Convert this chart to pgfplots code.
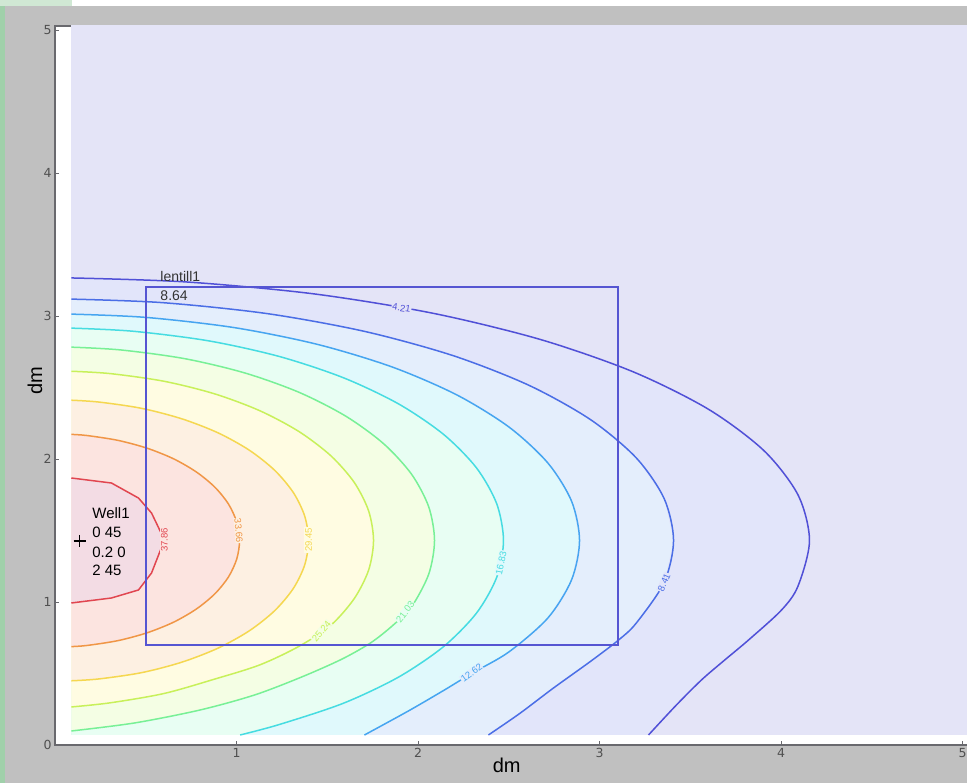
\documentclass[border=0pt]{standalone}
\usepackage{pgfplots}
\pgfplotsset{compat=1.18}
\usepackage{fontspec}
\setmainfont{Liberation Sans}
\newfontfamily\dv{DejaVu Sans}
\definecolor{bggray}{RGB}{192,192,192}
\definecolor{greenstrip}{RGB}{160,208,170}
\definecolor{framecol}{RGB}{105,105,110}
\definecolor{tickcol}{RGB}{80,80,80}
\definecolor{bgfield}{RGB}{228,228,247}
\definecolor{f1}{RGB}{226,229,250}
\definecolor{f2}{RGB}{228,238,252}
\definecolor{f3}{RGB}{224,249,252}
\definecolor{f4}{RGB}{232,254,243}
\definecolor{f5}{RGB}{244,254,228}
\definecolor{f6}{RGB}{255,252,226}
\definecolor{f7}{RGB}{253,240,226}
\definecolor{f8}{RGB}{252,228,224}
\definecolor{f9}{RGB}{243,220,228}
\definecolor{l1c}{RGB}{80,80,215}
\definecolor{l2c}{RGB}{75,110,230}
\definecolor{l3c}{RGB}{70,165,240}
\definecolor{l4c}{RGB}{70,220,225}
\definecolor{l5c}{RGB}{120,240,150}
\definecolor{l6c}{RGB}{200,240,90}
\definecolor{l7c}{RGB}{245,215,80}
\definecolor{l8c}{RGB}{240,150,70}
\definecolor{l9c}{RGB}{225,70,80}
\definecolor{rectcol}{RGB}{85,85,210}
\tikzset{lab/.style={font=\fontsize{9.5}{10}\selectfont, inner sep=0.8pt}}
\begin{document}
\begin{tikzpicture}[x=1pt,y=1pt]
\useasboundingbox (0,0) rectangle (967,783);
\fill[bggray] (0,0) rectangle (967,783);
\fill[greenstrip] (0,0) rectangle (5,783);
\fill[greenstrip!50!white] (0,777) rectangle (72,783);
\fill[white] (72,777) rectangle (967,783);
\begin{axis}[
  at={(55pt,38pt)}, anchor=south west,
  scale only axis, width=925.65pt, height=719.3pt,
  xmin=0, xmax=5.1, ymin=0, ymax=5.03,
  axis background/.style={fill=white},
  axis line style={draw=framecol, line width=2pt},
  xtick={1,2,3,4,5}, ytick={0,1,2,3,4,5},
  tick align=inside, major tick length=4pt,
  tick style={draw=framecol, line width=0.8pt},
  ticklabel style={font=\dv\fontsize{12.5}{14}\selectfont, text=tickcol},
  /pgf/number format/assume math mode=true,
  xlabel={dm}, ylabel={dm},
  every axis x label/.style={at={(axis description cs:0.488,0)}, anchor=center, yshift=-20pt, font=\fontsize{20}{24}\selectfont},
  every axis y label/.style={at={(axis description cs:-0.0216,0.507)}, rotate=90, anchor=center, font=\fontsize{20}{24}\selectfont},
]
% field background
\addplot[fill=bgfield, draw=none] coordinates {(0.09,0.07)(5.3,0.07)(5.3,5.2)(0.09,5.2)} --cycle;
% filled regions (area enclosed by each contour level)
\addplot[fill=f1, draw=none] coordinates {(0.09,3.266)(0.7217,3.2381)(1.4217,3.1553)(2.0785,3.020)(2.6722,2.8364)(3.1843,2.6102)(3.60,2.348)(3.9063,2.0579)(4.0938,1.7487)(4.157,1.43)(4.0938,1.1113)(4.003,0.944)(3.821,0.734)(3.683,0.587)(3.562,0.455)(3.424,0.280)(3.27,0.07)(0.09,0.07)} --cycle;
\addplot[fill=f2, draw=none] coordinates {(0.09,3.118)(0.5916,3.0933)(1.1655,3.0172)(1.704,2.8927)(2.1907,2.7238)(2.6105,2.5157)(2.9514,2.2745)(3.2025,2.0076)(3.3562,1.7232)(3.408,1.43)(3.3562,1.1368)(3.2025,0.8524)(3.105,0.734)(2.9514,0.5855)(2.747,0.399)(2.56,0.22)(2.388,0.07)(0.09,0.07)} --cycle;
\addplot[fill=f3, draw=none] coordinates {(0.09,3.013)(0.5017,2.990)(0.9884,2.9185)(1.445,2.8017)(1.8577,2.6433)(2.2137,2.4482)(2.5027,2.222)(2.7157,1.9717)(2.8461,1.705)(2.890,1.43)(2.8461,1.155)(2.7157,0.8883)(2.50,0.65)(2.295,0.50)(2.146,0.385)(1.95,0.24)(1.705,0.07)(0.09,0.07)} --cycle;
\addplot[fill=f4, draw=none] coordinates {(0.09,2.915)(0.429,2.8934)(0.8451,2.8264)(1.2355,2.7169)(1.5884,2.5683)(1.8928,2.3852)(2.1399,2.173)(2.322,1.9382)(2.4334,1.688)(2.471,1.43)(2.4334,1.172)(2.322,0.9218)(2.1399,0.687)(1.8928,0.4748)(1.5884,0.2917)(1.2355,0.1431)(1.02,0.07)(0.09,0.07)} --cycle;
\addplot[fill=f5, draw=none] coordinates {(0.09,2.782)(0.3631,2.7624)(0.7151,2.7014)(1.0455,2.6017)(1.3441,2.4664)(1.6017,2.2997)(1.8108,2.1065)(1.9649,1.8927)(2.0592,1.6649)(2.091,1.43)(2.0592,1.1951)(1.9649,0.9673)(1.86,0.835)(1.74,0.715)(1.58,0.60)(1.358,0.475)(1.10,0.35)(0.80,0.245)(0.438,0.154)(0.09,0.098)} --cycle;
\addplot[fill=f6, draw=none] coordinates {(0.09,2.6135)(0.3047,2.597)(0.6002,2.5436)(0.8775,2.4562)(1.1281,2.3377)(1.3443,2.1917)(1.5198,2.0225)(1.6492,1.8353)(1.7283,1.6357)(1.755,1.43)(1.7283,1.2243)(1.6492,1.0247)(1.5198,0.8375)(1.3443,0.69)(1.1281,0.56)(0.8775,0.46)(0.6002,0.36)(0.3047,0.295)(0.09,0.266)} --cycle;
\addplot[fill=f7, draw=none] coordinates {(0.09,2.411)(0.2425,2.398)(0.4778,2.354)(0.6985,2.281)(0.898,2.183)(1.070,2.062)(1.2098,1.9215)(1.3128,1.766)(1.3758,1.6006)(1.397,1.43)(1.3758,1.2594)(1.3128,1.094)(1.2098,0.9385)(1.070,0.798)(0.898,0.677)(0.6985,0.579)(0.4778,0.506)(0.2425,0.462)(0.09,0.449)} --cycle;
\addplot[fill=f8, draw=none] coordinates {(0.09,2.172)(0.1766,2.164)(0.3478,2.130)(0.5085,2.075)(0.6537,2.001)(0.7790,1.909)(0.8807,1.803)(0.9557,1.685)(1.0015,1.559)(1.017,1.43)(1.0015,1.301)(0.9557,1.175)(0.8807,1.057)(0.7790,0.951)(0.6537,0.859)(0.5085,0.785)(0.3478,0.730)(0.1766,0.696)(0.09,0.688)} --cycle;
\addplot[fill=f9, draw=none] coordinates {(0.09,1.867)(0.311,1.832)(0.460,1.727)(0.532,1.622)(0.603,1.434)(0.532,1.203)(0.460,1.084)(0.311,1.028)(0.09,0.993)} --cycle;
% contour lines
\addplot[l1c, line width=1.5pt, smooth, tension=0.5] coordinates {(0.09,3.266)(0.7217,3.2381)(1.4217,3.1553)(2.0785,3.020)(2.6722,2.8364)(3.1843,2.6102)(3.60,2.348)(3.9063,2.0579)(4.0938,1.7487)(4.157,1.43)(4.0938,1.1113)(4.003,0.944)(3.821,0.734)(3.683,0.587)(3.562,0.455)(3.424,0.280)(3.27,0.07)};
\addplot[l2c, line width=1.5pt, smooth, tension=0.5] coordinates {(0.09,3.118)(0.5916,3.0933)(1.1655,3.0172)(1.704,2.8927)(2.1907,2.7238)(2.6105,2.5157)(2.9514,2.2745)(3.2025,2.0076)(3.3562,1.7232)(3.408,1.43)(3.3562,1.1368)(3.2025,0.8524)(3.105,0.734)(2.9514,0.5855)(2.747,0.399)(2.56,0.22)(2.388,0.07)};
\addplot[l3c, line width=1.5pt, smooth, tension=0.5] coordinates {(0.09,3.013)(0.5017,2.990)(0.9884,2.9185)(1.445,2.8017)(1.8577,2.6433)(2.2137,2.4482)(2.5027,2.222)(2.7157,1.9717)(2.8461,1.705)(2.890,1.43)(2.8461,1.155)(2.7157,0.8883)(2.50,0.65)(2.295,0.50)(2.146,0.385)(1.95,0.24)(1.705,0.07)};
\addplot[l4c, line width=1.5pt, smooth, tension=0.5] coordinates {(0.09,2.915)(0.429,2.8934)(0.8451,2.8264)(1.2355,2.7169)(1.5884,2.5683)(1.8928,2.3852)(2.1399,2.173)(2.322,1.9382)(2.4334,1.688)(2.471,1.43)(2.4334,1.172)(2.322,0.9218)(2.1399,0.687)(1.8928,0.4748)(1.5884,0.2917)(1.2355,0.1431)(1.02,0.07)};
\addplot[l5c, line width=1.5pt, smooth, tension=0.5] coordinates {(0.09,2.782)(0.3631,2.7624)(0.7151,2.7014)(1.0455,2.6017)(1.3441,2.4664)(1.6017,2.2997)(1.8108,2.1065)(1.9649,1.8927)(2.0592,1.6649)(2.091,1.43)(2.0592,1.1951)(1.9649,0.9673)(1.86,0.835)(1.74,0.715)(1.58,0.60)(1.358,0.475)(1.10,0.35)(0.80,0.245)(0.438,0.154)(0.09,0.098)};
\addplot[l6c, line width=1.5pt, smooth, tension=0.5] coordinates {(0.09,2.6135)(0.3047,2.597)(0.6002,2.5436)(0.8775,2.4562)(1.1281,2.3377)(1.3443,2.1917)(1.5198,2.0225)(1.6492,1.8353)(1.7283,1.6357)(1.755,1.43)(1.7283,1.2243)(1.6492,1.0247)(1.5198,0.8375)(1.3443,0.69)(1.1281,0.56)(0.8775,0.46)(0.6002,0.36)(0.3047,0.295)(0.09,0.266)};
\addplot[l7c, line width=1.5pt, smooth, tension=0.5] coordinates {(0.09,2.411)(0.2425,2.398)(0.4778,2.354)(0.6985,2.281)(0.898,2.183)(1.070,2.062)(1.2098,1.9215)(1.3128,1.766)(1.3758,1.6006)(1.397,1.43)(1.3758,1.2594)(1.3128,1.094)(1.2098,0.9385)(1.070,0.798)(0.898,0.677)(0.6985,0.579)(0.4778,0.506)(0.2425,0.462)(0.09,0.449)};
\addplot[l8c, line width=1.5pt, smooth, tension=0.5] coordinates {(0.09,2.172)(0.1766,2.164)(0.3478,2.130)(0.5085,2.075)(0.6537,2.001)(0.7790,1.909)(0.8807,1.803)(0.9557,1.685)(1.0015,1.559)(1.017,1.43)(1.0015,1.301)(0.9557,1.175)(0.8807,1.057)(0.7790,0.951)(0.6537,0.859)(0.5085,0.785)(0.3478,0.730)(0.1766,0.696)(0.09,0.688)};
\addplot[l9c, line width=1.5pt] coordinates {(0.09,1.867)(0.311,1.832)(0.460,1.727)(0.532,1.622)(0.603,1.434)(0.532,1.203)(0.460,1.084)(0.311,1.028)(0.09,0.993)};
% rectangle lentill1
\addplot[rectcol, line width=1.8pt] coordinates {(0.5,0.7)(3.1,0.7)(3.1,3.2)(0.5,3.2)} --cycle;
% well marker
\addplot[only marks, mark=+, mark size=6pt, line width=1.6pt, black] coordinates {(0.135,1.427)};
% contour labels
\node[lab, text=l1c, fill=bgfield, rotate=-9] at (axis cs:1.909,3.056) {4.21};
\node[lab, text=l2c, fill=f1, rotate=66] at (axis cs:3.356,1.137) {8.41};
\node[lab, text=l3c, fill=f2, rotate=36] at (axis cs:2.295,0.505) {12.62};
\node[lab, text=l4c, fill=f3, rotate=78] at (axis cs:2.458,1.273) {16.83};
\node[lab, text=l5c, fill=f4, rotate=52] at (axis cs:1.93,0.93) {21.03};
\node[lab, text=l6c, fill=f5, rotate=50] at (axis cs:1.468,0.795) {25.24};
\node[lab, text=l7c, fill=f6, rotate=90] at (axis cs:1.397,1.434) {29.45};
\node[lab, text=l8c, fill=f7, rotate=-85] at (axis cs:1.012,1.50) {33.66};
\node[lab, text=l9c, fill=f8, rotate=90] at (axis cs:0.603,1.434) {37.86};
% annotations
\node[anchor=west, font=\fontsize{14}{16}\selectfont, text=black!80, inner sep=0pt] at (axis cs:0.58,3.273) {lentill1};
\node[anchor=west, font=\fontsize{14}{16}\selectfont, text=black!80, inner sep=0pt] at (axis cs:0.58,3.140) {8.64};
\node[anchor=west, font=\fontsize{15}{19}\selectfont, inner sep=0pt] at (axis cs:0.205,1.622) {Well1};
\node[anchor=west, font=\fontsize{15}{19}\selectfont, inner sep=0pt] at (axis cs:0.205,1.490) {0 45};
\node[anchor=west, font=\fontsize{15}{19}\selectfont, inner sep=0pt] at (axis cs:0.205,1.350) {0.2 0};
\node[anchor=west, font=\fontsize{15}{19}\selectfont, inner sep=0pt] at (axis cs:0.205,1.224) {2 45};
\end{axis}
\end{tikzpicture}
\end{document}
